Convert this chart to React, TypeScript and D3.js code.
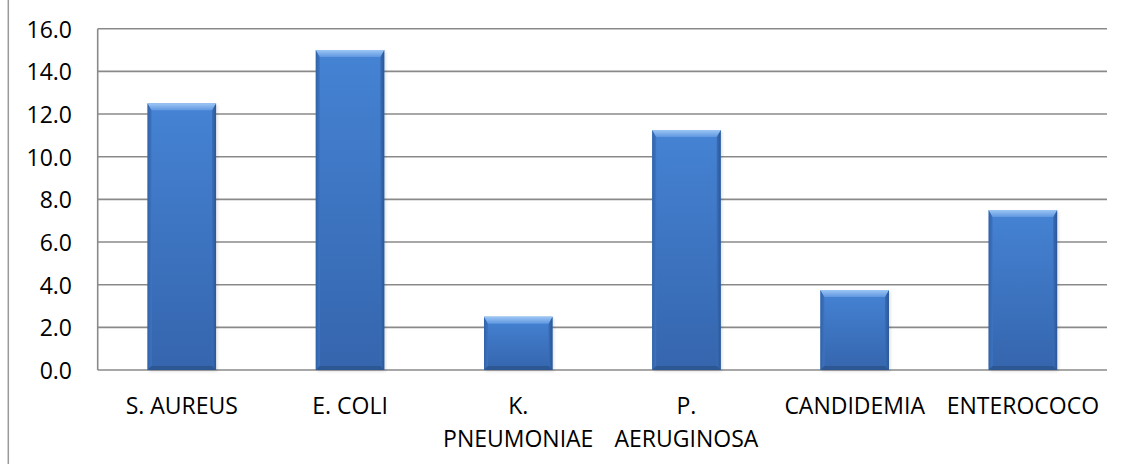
import React from "react";
import * as d3 from "d3";

const categories = ["S. AUREUS", "E. COLI", "K. PNEUMONIAE", "P. AERUGINOSA", "CANDIDEMIA", "ENTEROCOCO"];
const values = [12.5, 15.0, 2.5, 11.25, 3.75, 7.5];
const yTicks = [0, 2, 4, 6, 8, 10, 12, 14, 16];

const W = 1122;
const H = 464;
const plot = { left: 97.7, right: 1107, top: 28.7, bottom: 370 };
const FONT = "'Open Sans', 'Liberation Sans', sans-serif";

function wrapLabel(name: string): string[] {
  if (name.length > 12) {
    const i = name.indexOf(" ");
    return [name.slice(0, i), name.slice(i + 1)];
  }
  return [name];
}

function Bar({ x, y, w, h }: { x: number; y: number; w: number; h: number }) {
  const tb = Math.min(7, h / 2); // top bevel depth
  const sb = 4; // side bevel width
  const bb = Math.min(4, h / 3); // bottom bevel depth
  return (
    <g>
      <rect x={x + 1.5} y={y + 1.5} width={w} height={h} fill="#000" opacity={0.12} filter="url(#barShadow)" />
      <rect x={x} y={y} width={w} height={h} fill="url(#barBody)" />
      <polygon
        points={`${x},${y} ${x + sb},${y + tb} ${x + sb},${y + h - bb} ${x},${y + h}`}
        fill="url(#barLeft)"
      />
      <polygon
        points={`${x + w},${y} ${x + w - sb},${y + tb} ${x + w - sb},${y + h - bb} ${x + w},${y + h}`}
        fill="url(#barRight)"
      />
      <polygon
        points={`${x},${y} ${x + w},${y} ${x + w - sb},${y + tb} ${x + sb},${y + tb}`}
        fill="url(#barTop)"
      />
      <polygon
        points={`${x},${y + h} ${x + w},${y + h} ${x + w - sb},${y + h - bb} ${x + sb},${y + h - bb}`}
        fill="#2c5793"
      />
    </g>
  );
}

export default function App() {
  const y = d3.scaleLinear().domain([0, 16]).range([plot.bottom, plot.top]);
  const x = d3
    .scaleBand<string>()
    .domain(categories)
    .range([plot.left, plot.right])
    .paddingInner(0.593)
    .paddingOuter(0.2965);

  return (
    <svg
      width={W}
      height={H}
      style={{ position: "absolute", left: 0, top: 0, background: "#fff" }}
      fontFamily={FONT}
    >
      <defs>
        <linearGradient id="barBody" x1="0" y1="0" x2="0" y2="1">
          <stop offset="0" stopColor="#4583d4" />
          <stop offset="1" stopColor="#3565ad" />
        </linearGradient>
        <linearGradient id="barTop" x1="0" y1="0" x2="0" y2="1">
          <stop offset="0" stopColor="#9cc6f5" />
          <stop offset="1" stopColor="#5f97e0" />
        </linearGradient>
        <linearGradient id="barLeft" x1="0" y1="0" x2="1" y2="0">
          <stop offset="0" stopColor="#3162a6" />
          <stop offset="1" stopColor="#3d74c2" />
        </linearGradient>
        <linearGradient id="barRight" x1="0" y1="0" x2="1" y2="0">
          <stop offset="0" stopColor="#3a6eb8" />
          <stop offset="1" stopColor="#2a5696" />
        </linearGradient>
        <filter id="barShadow" x="-20%" y="-20%" width="140%" height="140%">
          <feGaussianBlur stdDeviation="1.5" />
        </filter>
      </defs>

      {/* outer chart frame edge */}
      <line x1={8.3} x2={8.3} y1={0} y2={H} stroke="#9a9a9a" strokeWidth={1.5} />

      {/* gridlines */}
      {yTicks.map((t) => (
        <line
          key={t}
          x1={plot.left}
          x2={plot.right}
          y1={y(t)}
          y2={y(t)}
          stroke="#8a8a8a"
          strokeWidth={1.6}
        />
      ))}
      <line x1={plot.left} x2={plot.left} y1={plot.top} y2={plot.bottom} stroke="#8a8a8a" strokeWidth={1.6} />

      {/* y-axis labels */}
      {yTicks.map((t) => (
        <text
          key={t}
          x={72}
          y={y(t)}
          textAnchor="end"
          dominantBaseline="central"
          fontSize={23}
          fill="#000"
        >
          {t.toFixed(1)}
        </text>
      ))}

      {/* bars */}
      {categories.map((c, i) => {
        const bx = x(c)!;
        const by = y(values[i]);
        return <Bar key={c} x={bx} y={by} w={x.bandwidth()} h={plot.bottom - by} />;
      })}

      {/* category labels */}
      {categories.map((c) => {
        const cx = x(c)! + x.bandwidth() / 2;
        const lines = wrapLabel(c);
        return (
          <text key={c} x={cx} textAnchor="middle" fontSize={23} fill="#000">
            {lines.map((l, j) => (
              <tspan key={j} x={cx} y={413.5 + j * 33}>
                {l}
              </tspan>
            ))}
          </text>
        );
      })}
    </svg>
  );
}
